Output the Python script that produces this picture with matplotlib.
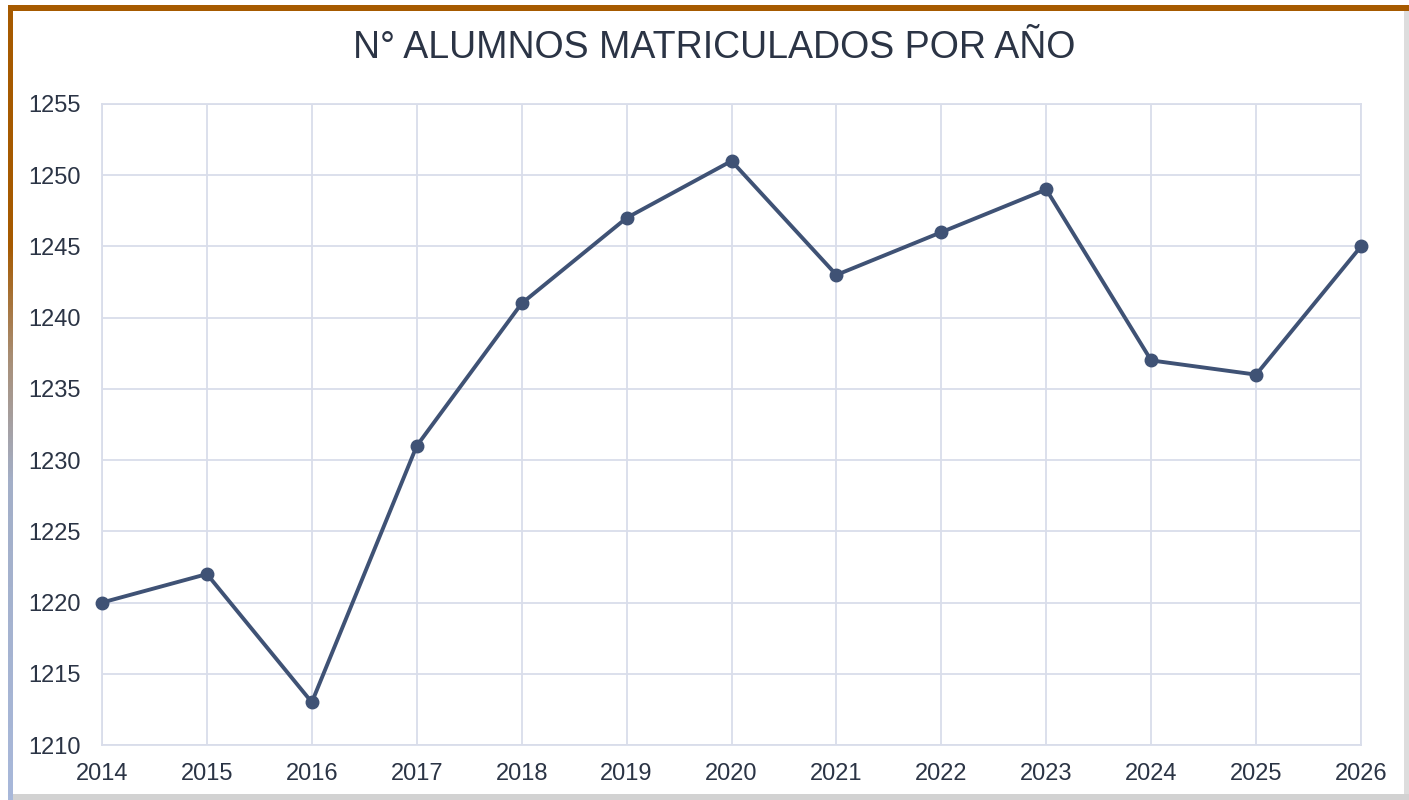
import matplotlib.pyplot as plt
import numpy as np
from matplotlib.patches import Rectangle
from matplotlib.colors import LinearSegmentedColormap

years = [2014, 2015, 2016, 2017, 2018, 2019, 2020, 2021, 2022, 2023, 2024, 2025, 2026]
alumnos = [1220, 1222, 1213, 1231, 1241, 1247, 1251, 1243, 1246, 1249, 1237, 1236, 1245]

plt.rcParams['font.family'] = ['Liberation Sans', 'DejaVu Sans']

W, H = 1409, 800
fig = plt.figure(figsize=(W / 100, H / 100), dpi=100)

# frame drawn in pixel coords on a background axes
bg = fig.add_axes([0, 0, 1, 1], zorder=-1)
bg.set_xlim(0, W)
bg.set_ylim(H, 0)
bg.axis('off')
brown = '#A65A00'
# shadows right and bottom
bg.add_patch(Rectangle((1404, 10), 5, H - 10, color='#DDDDDD', lw=0))
bg.add_patch(Rectangle((13, 794), W - 13, 6, color='#D2D2D2', lw=0))
bg.add_patch(Rectangle((8, 5), W - 8, 6, color=brown, lw=0))
cmap = LinearSegmentedColormap.from_list(
    'edge', [(0, brown), (0.3, brown), (0.45, '#A8907A'), (0.6, '#A3AFC8'), (1, '#A8B8DA')])
grad = np.linspace(0, 1, 300).reshape(-1, 1)
bg.imshow(grad, cmap=cmap, extent=(8, 13, H, 5), aspect='auto', zorder=2)
bg.set_xlim(0, W)
bg.set_ylim(H, 0)

ax = fig.add_axes([102 / W, 1 - 745 / H, (1361 - 102) / W, (745 - 104) / H])
ax.plot(years, alumnos, color='#3F5275', lw=2.8, marker='o', ms=9, zorder=3, clip_on=False)

ax.set_xlim(2014, 2026)
ax.set_ylim(1210, 1255)
ax.set_xticks(years)
ax.set_yticks(range(1210, 1256, 5))
ax.grid(True, color='#D9DDEA', lw=1.3)
for s in ax.spines.values():
    s.set_color('#D9DDEA')
    s.set_linewidth(1.3)
ax.tick_params(length=0, labelsize=17, colors='#2B3445')
ax.tick_params(axis='y', pad=15)
ax.tick_params(axis='x', pad=13)

fig.text(714 / W, 1 - 48 / H, 'N° ALUMNOS MATRICULADOS POR AÑO', ha='center', va='center',
         fontsize=27, color='#2B3445')

plt.savefig('out.png', dpi=100)
